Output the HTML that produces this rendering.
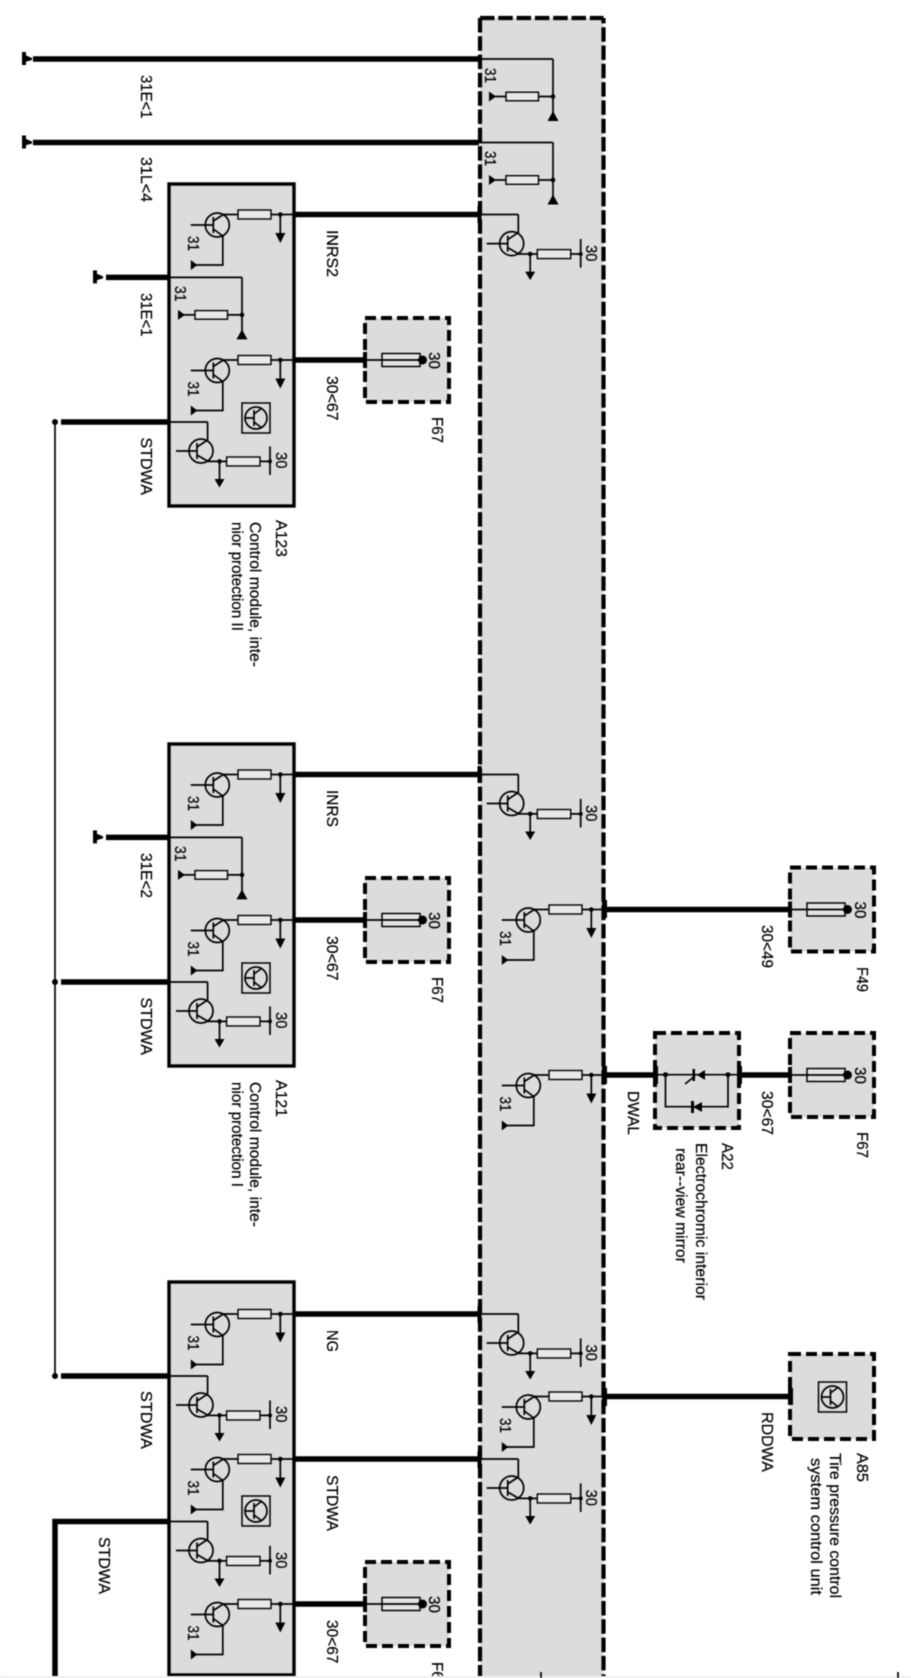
<!DOCTYPE html>
<html><head><meta charset="utf-8"><title>Wiring diagram</title>
<style>
html,body{margin:0;padding:0;background:#fff}
svg{display:block;filter:blur(.5px)}
text{font-family:"Liberation Sans",sans-serif;font-size:16px;fill:#000;stroke:#000;stroke-width:.22}
.th{fill:none;stroke:#000;stroke-width:5.5}
.t{fill:none;stroke:#000;stroke-width:1.7}
</style></head><body>
<svg xmlns="http://www.w3.org/2000/svg" width="911" height="1678" viewBox="0 0 911 1678">
<defs>
<g id="tA">
<circle r="12" class="t"/>
<path class="t" d="M-26.5,0H-4M-4,-8V8M-4,-4L6,-10.5H20.7M53.7,-10.5H76.7M63,-10.5V9M-4,4L5.5,11V40H-22"/>
<rect x="20.7" y="-15" width="33" height="9" fill="#e8e8e8" stroke="#000" stroke-width="1.4"/>
<circle cx="63" cy="-10.5" r="2.3"/>
<polygon points="58,8 68,8 63,18"/>
<polygon points="-26.5,35 -26.5,45 -20,40"/>
</g>
<g id="tB">
<circle r="12" class="t"/>
<path class="t" d="M-25,0H-4M-4,-8V8M6.6,-29V-11L-4,-4M-4,4L7,10.4H25.6M59,10.4H69M69,-4.6V24M18.5,10.4V28"/>
<rect x="25.6" y="6" width="33.4" height="9" fill="#e8e8e8" stroke="#000" stroke-width="1.4"/>
<circle cx="18.5" cy="10.4" r="2.3"/>
<circle cx="69" cy="10.4" r="2"/>
<polygon points="13.5,28 23.5,28 18.5,36.5"/>
</g>
<g id="gn">
<path class="t" d="M0,0V55M0,37.5H-14.5M-47,37.5H-58"/>
<rect x="-47" y="33.2" width="32.5" height="8.6" fill="#e8e8e8" stroke="#000" stroke-width="1.4"/>
<circle cy="37.5" r="2.3"/>
<polygon points="-64,32.5 -64,42.5 -57,37.5"/>
<polygon points="0,52 -5.5,62 5.5,62"/>
</g>
<g id="fb">
<rect x="0" y="-42" width="84" height="84" fill="#dcdcdc" stroke="#000" stroke-width="4" stroke-dasharray="11 5"/>
<path class="t" d="M0,0H17"/>
<rect x="17" y="-6.5" width="38" height="13" fill="#e4e4e4" stroke="#000" stroke-width="1.5"/>
<path class="t" d="M17,0H55"/>
<circle cx="57.5" r="4.5"/>
<rect x="-2" y="-8" width="4" height="16"/>
</g>
<g id="ic">
<rect x="-14" y="-15" width="28" height="30" fill="none" stroke="#000" stroke-width="1.5"/>
<circle r="11" class="t"/>
<path class="t" d="M-11,0H-2M-2,-8V8M-2,-4L6,-10M-2,4L6,10"/>
</g>
<g id="gt">
<rect x="-2" y="-7" width="4" height="13"/>
<polygon points="1,-4 8,-1 8,1 1,3"/>
</g>
</defs>

<!-- central band -->
<rect x="480" y="18" width="123.5" height="1660" fill="#dcdcdc"/>
<path d="M480,18H603.5" fill="none" stroke="#000" stroke-width="4.2" stroke-dasharray="14.5 3.8"/>
<path d="M480,18V1678" fill="none" stroke="#000" stroke-width="4.2" stroke-dasharray="14.5 3.8"/>
<path d="M603.5,18V1678" fill="none" stroke="#000" stroke-width="4.2" stroke-dasharray="14.5 3.8" stroke-dashoffset="9.1"/>

<!-- modules -->
<rect x="169" y="184" width="125" height="322" fill="#dcdcdc" stroke="#000" stroke-width="3.4"/>
<rect x="169" y="744" width="125" height="322" fill="#dcdcdc" stroke="#000" stroke-width="3.4"/>
<rect x="169" y="1282" width="125" height="393" fill="#dcdcdc" stroke="#000" stroke-width="3.4"/>

<!-- top ground lines -->
<path class="th" d="M33,59H479M33,142.5H479M106,277.4H169M106,837.4H169"/>
<use href="#gt" x="24" y="59"/><use href="#gt" x="24" y="142.5"/>
<use href="#gt" x="95" y="277.4"/><use href="#gt" x="95" y="837.4"/>
<path class="t" d="M479,59H553M479,142.5H553M169,277.4H242M169,837.4H242"/>
<use href="#gn" x="553" y="59"/><use href="#gn" x="553" y="142.5"/>
<use href="#gn" x="242" y="277.4"/><use href="#gn" x="242" y="837.4"/>

<!-- long thick lines -->
<path class="th" d="M294,214.5H479M294,774.5H479M294,1314H479M294,1459H479"/>
<path class="th" d="M294,360H366M294,920H366M294,1604H366"/>
<path class="th" d="M61,422H169M61,982H169M61,1376H169"/>
<path class="th" stroke-width="5" d="M169,1521.5H55V1678"/>
<path class="th" d="M604,909.5H790M604,1075H655M739,1075H790M604,1396.5H790"/>
<path class="t" d="M55,422V1376"/>
<circle cx="55" cy="422" r="3"/><circle cx="55" cy="982" r="3"/><circle cx="55" cy="1376" r="3"/>
<path class="t" d="M169,422H207.6M169,982H207.6M169,1376H207.6M169,1521.5H207.6"/>
<path class="t" d="M479,214.5H518.3M479,774.5H518.3M479,1314H518.3M479,1459H518.3"/>
<rect x="602" y="900" width="5" height="18"/><rect x="602" y="1066" width="5" height="18"/><rect x="602" y="1388" width="5" height="18"/>
<rect x="477.5" y="206" width="4" height="17"/><rect x="477.5" y="766" width="4" height="17"/><rect x="477.5" y="1306" width="4" height="17"/><rect x="477.5" y="1451" width="4" height="17"/>

<!-- module 1 -->
<use href="#tA" x="217.3" y="225"/><use href="#tA" x="217.3" y="370.5"/><use href="#tB" x="201" y="451"/>
<use href="#ic" x="256" y="418"/>
<!-- module 2 -->
<use href="#tA" x="217.3" y="785"/><use href="#tA" x="217.3" y="930.5"/><use href="#tB" x="201" y="1011"/>
<use href="#ic" x="256" y="978"/>
<!-- module 3 -->
<use href="#tA" x="217.3" y="1324.5"/><use href="#tB" x="201" y="1405"/><use href="#tA" x="217.3" y="1469.5"/>
<use href="#tB" x="201" y="1550.5"/><use href="#tA" x="217.3" y="1614.5"/>
<use href="#ic" x="256" y="1511"/>
<!-- band transistors -->
<use href="#tB" x="511.7" y="243.6"/><use href="#tB" x="511.7" y="803.5"/>
<use href="#tA" x="528.3" y="920"/><use href="#tA" x="528.3" y="1085.5"/>
<use href="#tB" x="511.7" y="1343"/><use href="#tA" x="528.3" y="1407"/><use href="#tB" x="511.7" y="1488"/>

<!-- fuse boxes -->
<use href="#fb" x="365" y="360"/><use href="#fb" x="365" y="920"/><use href="#fb" x="365" y="1604"/>
<use href="#fb" x="790" y="909.5"/><use href="#fb" x="790" y="1075"/>

<!-- A22 -->
<rect x="655" y="1033" width="84" height="95" fill="#dcdcdc" stroke="#000" stroke-width="4" stroke-dasharray="11 5"/>
<path class="t" d="M655,1074.7H739M665.5,1074.7V1106.7H728V1074.7"/>
<circle cx="665.5" cy="1074.7" r="2.5"/><circle cx="728" cy="1074.7" r="2.5"/>
<polygon points="705,1070 705,1080 697,1075"/><rect x="692.5" y="1069" width="2.5" height="12"/>
<path class="t" stroke-width="2.4" d="M685,1084L695,1076"/>
<polygon points="702,1102 702,1112 693,1107"/><rect x="691" y="1101" width="3" height="12"/>
<rect x="737" y="1066" width="5" height="18"/><rect x="653" y="1066" width="5" height="18"/>

<!-- A85 -->
<rect x="790" y="1354" width="84" height="85" fill="#dcdcdc" stroke="#000" stroke-width="4" stroke-dasharray="11 5"/>
<rect x="788" y="1388" width="5" height="17"/>
<use href="#ic" x="832.5" y="1397"/>

<!-- "31" labels -->
<g>
<text transform="translate(485,68) rotate(90)" textLength="15" lengthAdjust="spacingAndGlyphs">31</text>
<text transform="translate(485,151) rotate(90)" textLength="15" lengthAdjust="spacingAndGlyphs">31</text>
<text transform="translate(175,286) rotate(90)" textLength="15.5" lengthAdjust="spacingAndGlyphs">31</text>
<text transform="translate(175,846) rotate(90)" textLength="15.5" lengthAdjust="spacingAndGlyphs">31</text>
<text transform="translate(188,236) rotate(90)" textLength="15" lengthAdjust="spacingAndGlyphs">31</text>
<text transform="translate(188,381.5) rotate(90)" textLength="15" lengthAdjust="spacingAndGlyphs">31</text>
<text transform="translate(188,796) rotate(90)" textLength="15" lengthAdjust="spacingAndGlyphs">31</text>
<text transform="translate(188,941.5) rotate(90)" textLength="15" lengthAdjust="spacingAndGlyphs">31</text>
<text transform="translate(188,1335.5) rotate(90)" textLength="15" lengthAdjust="spacingAndGlyphs">31</text>
<text transform="translate(188,1480.5) rotate(90)" textLength="15" lengthAdjust="spacingAndGlyphs">31</text>
<text transform="translate(188,1625.5) rotate(90)" textLength="15" lengthAdjust="spacingAndGlyphs">31</text>
<text transform="translate(500,931) rotate(90)" textLength="15" lengthAdjust="spacingAndGlyphs">31</text>
<text transform="translate(500,1096.5) rotate(90)" textLength="15" lengthAdjust="spacingAndGlyphs">31</text>
<text transform="translate(500,1418) rotate(90)" textLength="15" lengthAdjust="spacingAndGlyphs">31</text>
</g>
<!-- "30" labels -->
<g>
<text transform="translate(276,452) rotate(90)" textLength="16.5" lengthAdjust="spacingAndGlyphs">30</text>
<text transform="translate(276,1012) rotate(90)" textLength="16.5" lengthAdjust="spacingAndGlyphs">30</text>
<text transform="translate(276,1406) rotate(90)" textLength="16.5" lengthAdjust="spacingAndGlyphs">30</text>
<text transform="translate(276,1552) rotate(90)" textLength="16.5" lengthAdjust="spacingAndGlyphs">30</text>
<text transform="translate(586,245) rotate(90)" textLength="16.5" lengthAdjust="spacingAndGlyphs">30</text>
<text transform="translate(586,805) rotate(90)" textLength="16.5" lengthAdjust="spacingAndGlyphs">30</text>
<text transform="translate(586,1344.5) rotate(90)" textLength="16.5" lengthAdjust="spacingAndGlyphs">30</text>
<text transform="translate(586,1489.5) rotate(90)" textLength="16.5" lengthAdjust="spacingAndGlyphs">30</text>
<text transform="translate(429,352) rotate(90)" textLength="17" lengthAdjust="spacingAndGlyphs">30</text>
<text transform="translate(429,912) rotate(90)" textLength="17" lengthAdjust="spacingAndGlyphs">30</text>
<text transform="translate(429,1596) rotate(90)" textLength="17" lengthAdjust="spacingAndGlyphs">30</text>
<text transform="translate(855,901.5) rotate(90)" textLength="17" lengthAdjust="spacingAndGlyphs">30</text>
<text transform="translate(855,1067) rotate(90)" textLength="17" lengthAdjust="spacingAndGlyphs">30</text>
</g>
<!-- wire labels -->
<g>
<text transform="translate(141,75) rotate(90)" textLength="43.5" lengthAdjust="spacingAndGlyphs">31E&lt;1</text>
<text transform="translate(141,157) rotate(90)" textLength="45" lengthAdjust="spacingAndGlyphs">31L&lt;4</text>
<text transform="translate(141,293) rotate(90)" textLength="43.5" lengthAdjust="spacingAndGlyphs">31E&lt;1</text>
<text transform="translate(141,853) rotate(90)" textLength="45" lengthAdjust="spacingAndGlyphs">31E&lt;2</text>
<text transform="translate(141,437.5) rotate(90)" textLength="57.5" lengthAdjust="spacingAndGlyphs">STDWA</text>
<text transform="translate(141,997.5) rotate(90)" textLength="57.5" lengthAdjust="spacingAndGlyphs">STDWA</text>
<text transform="translate(141,1391) rotate(90)" textLength="58" lengthAdjust="spacingAndGlyphs">STDWA</text>
<text transform="translate(99,1537) rotate(90)" textLength="57" lengthAdjust="spacingAndGlyphs">STDWA</text>
<text transform="translate(327,230) rotate(90)" textLength="47" lengthAdjust="spacingAndGlyphs">INRS2</text>
<text transform="translate(327,790) rotate(90)" textLength="37" lengthAdjust="spacingAndGlyphs">INRS</text>
<text transform="translate(327,1330) rotate(90)" textLength="22" lengthAdjust="spacingAndGlyphs">NG</text>
<text transform="translate(327,1475) rotate(90)" textLength="56" lengthAdjust="spacingAndGlyphs">STDWA</text>
<text transform="translate(327,376) rotate(90)" textLength="44.5" lengthAdjust="spacingAndGlyphs">30&lt;67</text>
<text transform="translate(327,936) rotate(90)" textLength="44.5" lengthAdjust="spacingAndGlyphs">30&lt;67</text>
<text transform="translate(327,1620) rotate(90)" textLength="43.5" lengthAdjust="spacingAndGlyphs">30&lt;67</text>
<text transform="translate(432,417) rotate(90)" textLength="26" lengthAdjust="spacingAndGlyphs">F67</text>
<text transform="translate(432,977) rotate(90)" textLength="26" lengthAdjust="spacingAndGlyphs">F67</text>
<text transform="translate(432,1662) rotate(90)" textLength="26" lengthAdjust="spacingAndGlyphs">F67</text>
<text transform="translate(762,925) rotate(90)" textLength="43" lengthAdjust="spacingAndGlyphs">30&lt;49</text>
<text transform="translate(857,967) rotate(90)" textLength="25" lengthAdjust="spacingAndGlyphs">F49</text>
<text transform="translate(762,1091) rotate(90)" textLength="44" lengthAdjust="spacingAndGlyphs">30&lt;67</text>
<text transform="translate(857,1132) rotate(90)" textLength="26" lengthAdjust="spacingAndGlyphs">F67</text>
<text transform="translate(628,1091) rotate(90)" textLength="44" lengthAdjust="spacingAndGlyphs">DWAL</text>
<text transform="translate(762,1412) rotate(90)" textLength="60" lengthAdjust="spacingAndGlyphs">RDDWA</text>
</g>
<!-- component labels -->
<g>
<text transform="translate(276,520) rotate(90)" textLength="37" lengthAdjust="spacingAndGlyphs">A123</text>
<text transform="translate(250,522) rotate(90)" textLength="145" lengthAdjust="spacingAndGlyphs">Control module, inte-</text>
<text transform="translate(232,522) rotate(90)" textLength="109" lengthAdjust="spacingAndGlyphs">nior protection II</text>
<text transform="translate(276,1080) rotate(90)" textLength="37" lengthAdjust="spacingAndGlyphs">A121</text>
<text transform="translate(250,1082) rotate(90)" textLength="145" lengthAdjust="spacingAndGlyphs">Control module, inte-</text>
<text transform="translate(232,1082) rotate(90)" textLength="105" lengthAdjust="spacingAndGlyphs">nior protection I</text>
<text transform="translate(722,1143) rotate(90)" textLength="27" lengthAdjust="spacingAndGlyphs">A22</text>
<text transform="translate(696,1143) rotate(90)" textLength="157" lengthAdjust="spacingAndGlyphs">Electrochromic interior</text>
<text transform="translate(676,1148) rotate(90)" textLength="115" lengthAdjust="spacingAndGlyphs">rear--view mirror</text>
<text transform="translate(857,1453) rotate(90)" textLength="29" lengthAdjust="spacingAndGlyphs">A85</text>
<text transform="translate(830,1453) rotate(90)" textLength="145" lengthAdjust="spacingAndGlyphs">Tire pressure control</text>
<text transform="translate(811,1458) rotate(90)" textLength="137" lengthAdjust="spacingAndGlyphs">system  control unit</text>
</g>

<!-- bottom strip -->
<rect x="0" y="1676" width="911" height="2" fill="#f0f0f0"/>
<path class="t" d="M541,1672V1678M898,1672V1678"/>
</svg>
</body></html>
